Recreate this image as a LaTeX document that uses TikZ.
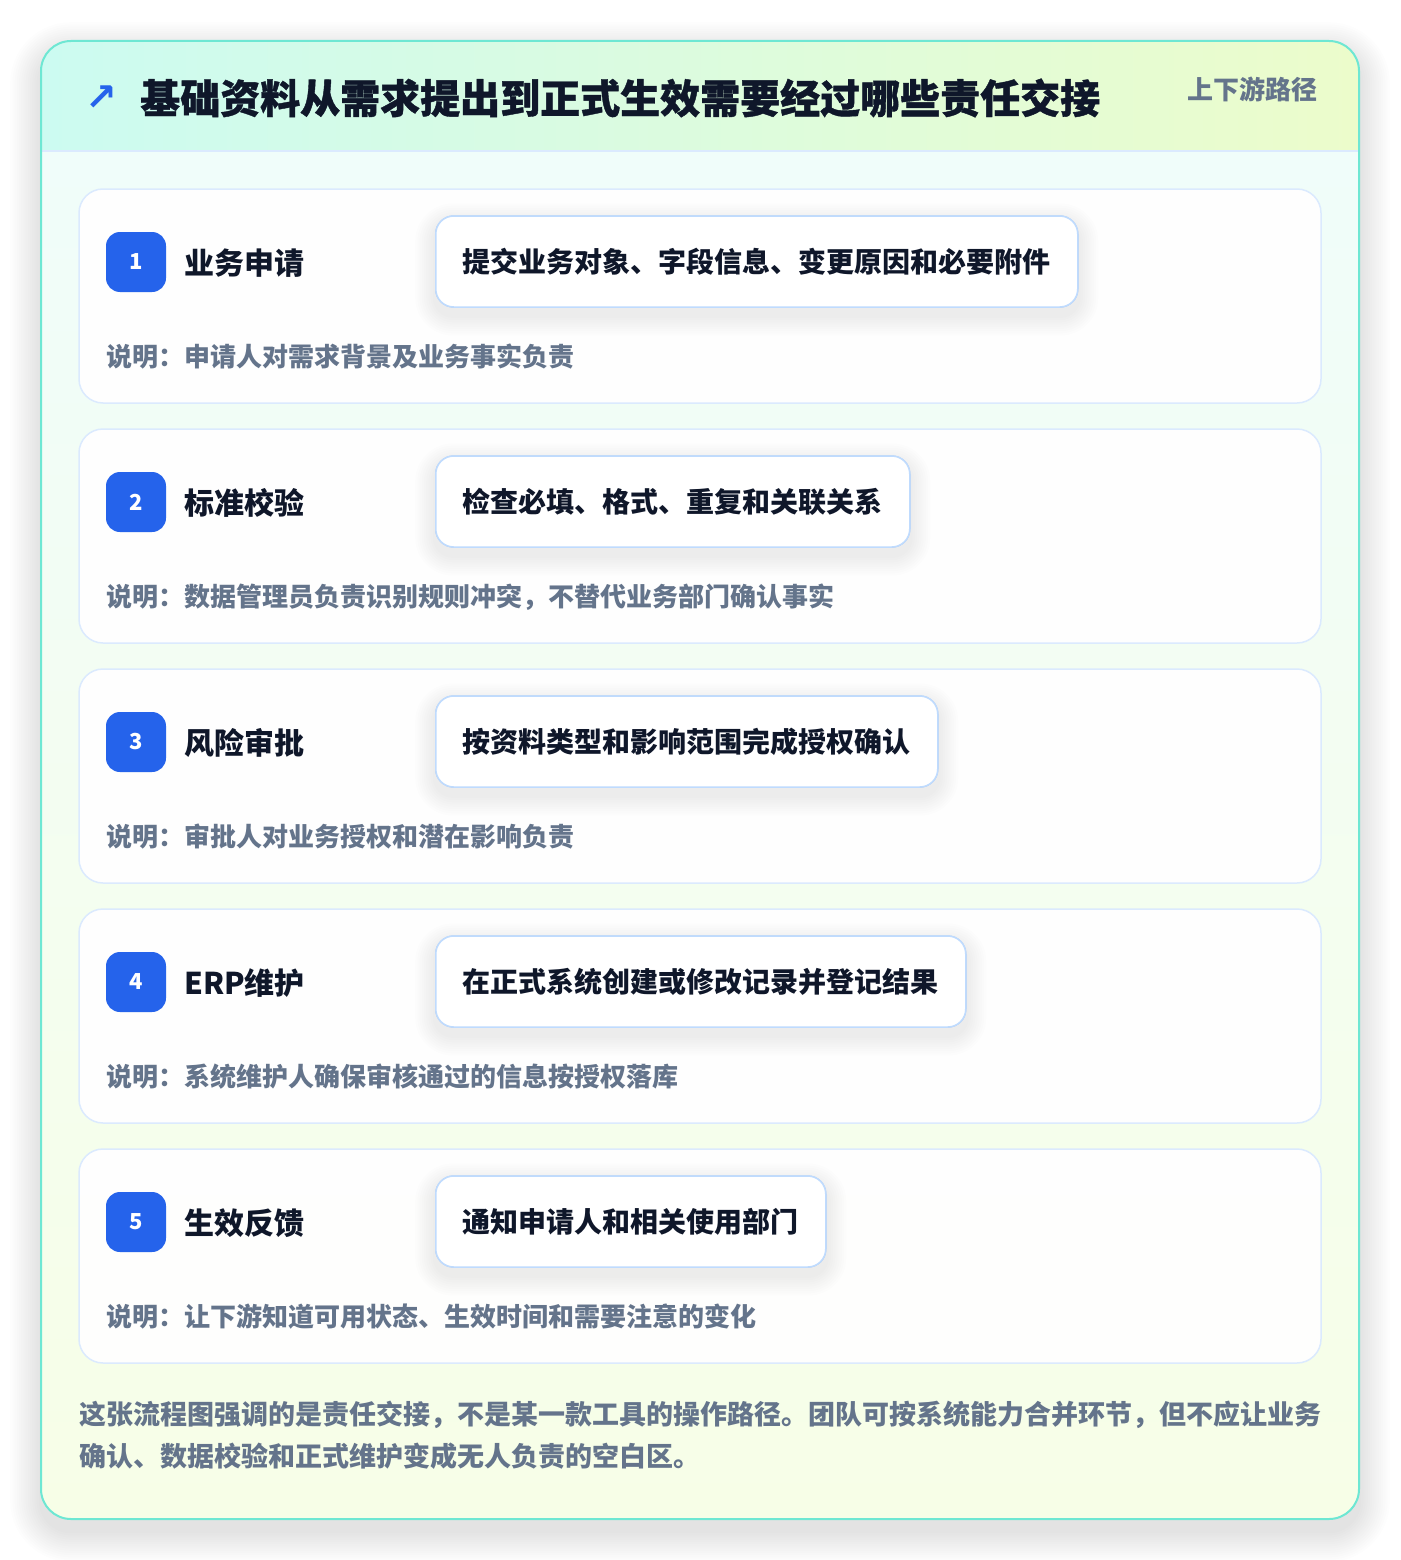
\documentclass[tikz,border=0pt]{standalone}
\usepackage{fontspec}
\setmainfont{Noto Sans CJK SC}
\newfontfamily\titlefont{Noto Sans CJK SC}[BoldFeatures={FakeBold=1}]
\newfontfamily\symfont{DejaVu Sans}
\definecolor{ink}{HTML}{0F172A}
\definecolor{muted}{HTML}{64748B}
\definecolor{badge}{HTML}{2563EB}
\definecolor{cardline}{HTML}{DBEAFE}
\definecolor{boxline}{HTML}{BFDBFE}
\definecolor{teal}{HTML}{6EE7D3}
\definecolor{hdrL}{HTML}{CCFBF1}
\definecolor{hdrR}{HTML}{ECFCCB}
\definecolor{bodyT}{HTML}{F0FDFA}
\definecolor{bodyB}{HTML}{F7FEE7}
\tikzset{
  fs/.style={font=\fontsize{#1}{#1}\selectfont\bfseries},
  stepcard/.style={draw=cardline, line width=1.5pt, fill=white, fill opacity=0.95, rounded corners=24pt},
  badgebox/.style={fill=badge, rounded corners=14pt, minimum width=60pt, minimum height=60pt, inner sep=0pt, text=white, fs=22},
  steptitle/.style={anchor=west, inner sep=0pt, text=ink, fs=30},
  actbox/.style={anchor=west, draw=boxline, line width=1.5pt, fill=white, rounded corners=18pt, minimum height=91pt, inner xsep=27pt, inner ysep=0pt, text=ink, fs=28},
  desc/.style={anchor=west, inner sep=0pt, text=muted, fs=26},
  shadowlayer/.style={fill=black, fill opacity=#1},
}
\begin{document}
\begin{tikzpicture}[x=1pt,y=-1pt]
\useasboundingbox (0,0) rectangle (1400,1560);
\fill[white] (0,0) rectangle (1400,1560);
% outer card soft shadow
\foreach \k in {1,...,14}{
  \pgfmathsetmacro{\e}{2.2*\k}
  \fill[shadowlayer=0.008, rounded corners=30pt+\e pt] (41-\e,41-\e+12) rectangle (1359+\e,1519+\e+12);
}
\begin{scope}
\clip[rounded corners=30pt] (41,41) rectangle (1359,1519);
\fill[white] (41,41) rectangle (1359,1519);
\shade[top color=bodyT, bottom color=bodyB] (41,151) rectangle (1359,1519);
\shade[left color=hdrL, right color=hdrR] (41,41) rectangle (1359,151);
\draw[cardline, line width=1.5pt] (41,151) -- (1359,151);
\end{scope}
\draw[teal, line width=2pt, rounded corners=30pt] (41,41) rectangle (1359,1519);
% header
\node[anchor=center, inner sep=0pt, text=badge, font=\symfont\fontsize{38}{38}\selectfont\bfseries] (icon) at (101,98) {↗};
\node[anchor=west, inner sep=0pt, text=ink, font=\titlefont\fontsize{40}{40}\selectfont\bfseries] (title) at (140,98) {基础资料从需求提出到正式生效需要经过哪些责任交接};
\node[anchor=east, inner sep=0pt, text=muted, fs=26] (tag) at (1318,89) {上下游路径};
% steps
\foreach \i/\t/\a/\d in {
 0/业务申请/提交业务对象、字段信息、变更原因和必要附件/说明：申请人对需求背景及业务事实负责,
 1/标准校验/检查必填、格式、重复和关联关系/说明：数据管理员负责识别规则冲突，不替代业务部门确认事实,
 2/风险审批/按资料类型和影响范围完成授权确认/说明：审批人对业务授权和潜在影响负责,
 3/ERP维护/在正式系统创建或修改记录并登记结果/说明：系统维护人确保审核通过的信息按授权落库,
 4/生效反馈/通知申请人和相关使用部门/说明：让下游知道可用状态、生效时间和需要注意的变化}{
  \pgfmathsetmacro{\yy}{189+240*\i}
  \pgfmathtruncatemacro{\n}{\i+1}
  \draw[stepcard] (79,\yy) rectangle (1321,\yy+214);
  \node[badgebox] (b\n) at (136,\yy+73) {\n};
  \node[steptitle] (t\n) at (184,\yy+74) {\t};
  \node[actbox] (a\n) at (435,\yy+72.5) {\a};
  \foreach \k in {1,...,9}{
    \pgfmathsetmacro{\e}{2.2*\k}
    \fill[shadowlayer=0.006, rounded corners=18pt+\e pt] ([xshift=-\e pt, yshift=-\e pt-8pt]a\n.south west) rectangle ([xshift=\e pt, yshift=\e pt-8pt]a\n.north east);
  }
  \node[actbox] (a\n) at (435,\yy+72.5) {\a};
  \node[desc] (d\n) at (106,\yy+168) {\d};
}
% footer
\node[anchor=north west, inner sep=0pt, text=muted, align=left, font=\fontsize{27}{42}\selectfont\bfseries] (foot) at (79,1401) {这张流程图强调的是责任交接，不是某一款工具的操作路径。团队可按系统能力合并环节，但不应让业务\\确认、数据校验和正式维护变成无人负责的空白区。};
\end{tikzpicture}
\end{document}
